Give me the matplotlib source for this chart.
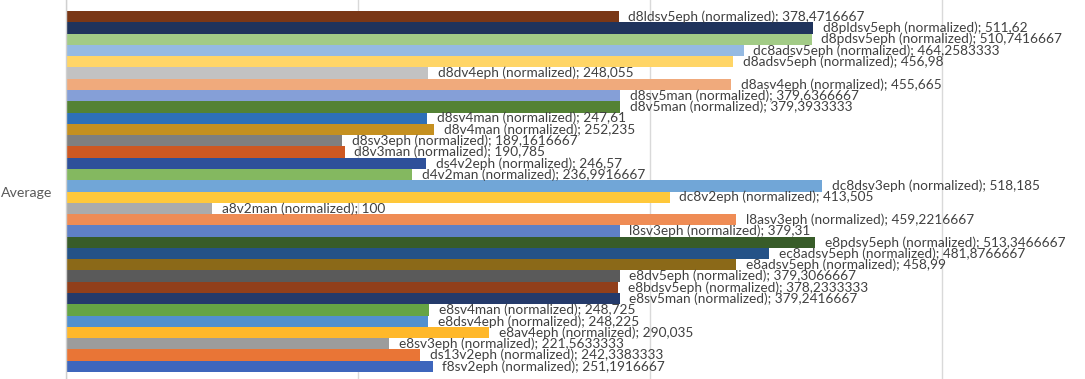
import matplotlib
matplotlib.use('Agg')
import matplotlib.pyplot as plt

# series, top to bottom as drawn
names = ['d8ldsv5eph', 'd8pldsv5eph', 'd8pdsv5eph', 'dc8adsv5eph', 'd8adsv5eph',
         'd8dv4eph', 'd8asv4eph', 'd8sv5man', 'd8v5man', 'd8sv4man', 'd8v4man',
         'd8sv3eph', 'd8v3man', 'ds4v2eph', 'd4v2man', 'dc8dsv3eph', 'dc8v2eph',
         'a8v2man', 'l8asv3eph', 'l8sv3eph', 'e8pdsv5eph', 'ec8adsv5eph',
         'e8adsv5eph', 'e8dv5eph', 'e8bdsv5eph', 'e8sv5man', 'e8sv4man',
         'e8dsv4eph', 'e8av4eph', 'e8sv3eph', 'ds13v2eph', 'f8sv2eph']
values = [378.4716667, 511.62, 510.7416667, 464.2583333, 456.98,
          248.055, 455.665, 379.6366667, 379.3933333, 247.61, 252.235,
          189.1616667, 190.785, 246.57, 236.9916667, 518.185, 413.505,
          100, 459.2216667, 379.31, 513.3466667, 481.8766667,
          458.99, 379.3066667, 378.2333333, 379.2416667, 248.725,
          248.225, 290.035, 221.5633333, 242.3383333, 251.1916667]
colors = ['#7A3716', '#1F335C', '#A2CB86', '#95BAE2', '#FFD566',
          '#C2C2C2', '#F0AA7C', '#859FD7', '#548235', '#2E70B8', '#C59020',
          '#7F7F7F', '#CD5822', '#2E509A', '#84B860', '#71A6D7', '#FFC83A',
          '#ABABAB', '#EF8C55', '#5F80C6', '#385C29', '#245287',
          '#8B6918', '#5A5A5A', '#913F1B', '#243A6B', '#65A444',
          '#5190CF', '#FFB82A', '#9C9C9C', '#E97536', '#3E66BC']
category = 'Average'

plt.rcParams['font.family'] = ['Lato', 'DejaVu Sans']

fig = plt.figure(figsize=(10.85, 3.79), dpi=100)
ax = fig.add_axes([66 / 1085, 0, 1 - 66 / 1085, 1])

pos = list(range(len(values)))
ax.barh(pos, values, height=1.0, color=colors, linewidth=0, zorder=2)

for i, (n, v) in enumerate(zip(names, values)):
    s = ('%.7f' % v).rstrip('0').rstrip('.').replace('.', ',')
    ax.annotate('%s (normalized); %s' % (n, s), (v, i), xytext=(7, 0),
                textcoords='offset points', va='center', ha='left',
                fontsize=9.8, color='#404040', zorder=3)

ax.set_xlim(0, 698)
ax.set_ylim(32.12, -1.475)
ax.set_xticks([0, 200, 400, 600])
ax.set_xticklabels([])
ax.tick_params(axis='x', length=0)
ax.grid(axis='x', color='#D9D9D9', linewidth=1, zorder=0)
ax.set_axisbelow(True)

ax.set_yticks([15.5])
ax.set_yticklabels([category], fontsize=10.2, color='#595959')
ax.tick_params(axis='y', length=0, pad=10)

for side in ['top', 'right', 'bottom']:
    ax.spines[side].set_visible(False)
ax.spines['left'].set_color('#D0D0D0')
ax.spines['left'].set_linewidth(1)

fig.savefig('out.png', dpi=100)
